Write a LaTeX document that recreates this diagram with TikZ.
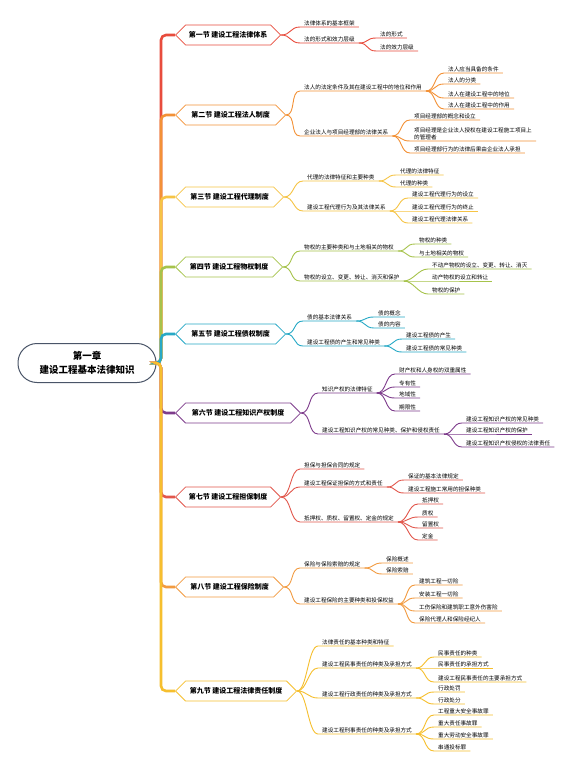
\documentclass[tikz,border=0pt]{standalone}
\usepackage{fontspec}
\setmainfont{Noto Sans CJK SC}
\usetikzlibrary{shapes.symbols}
\definecolor{cA}{HTML}{E84C3D}
\definecolor{cB}{HTML}{F39136}
\definecolor{cC}{HTML}{F6C445}
\definecolor{cD}{HTML}{A6C34B}
\definecolor{cE}{HTML}{27A9C6}
\definecolor{cF}{HTML}{7E3C8C}
\definecolor{cG}{HTML}{E2574C}
\definecolor{cH}{HTML}{F29B41}
\definecolor{cI}{HTML}{F6BF2E}
\definecolor{cZ}{HTML}{4A5568}
\newcommand\kid[5]{%
  \node[sub] (#2) at (#3) {#4};
  \draw[br=#5] (#1) .. controls +(10,0) and +(-10,0) .. (#2.south west) -- (#2.south east);}
\begin{document}
\begin{tikzpicture}[x=1pt,y=-1pt,
  sec/.style={signal, signal to=west and east, signal pointer angle=90, draw=#1,
    line width=0.8pt, fill=white, minimum height=20pt, inner xsep=2pt, inner ysep=0pt,
    font=\fontsize{7}{8}\selectfont\bfseries, anchor=west},
  sub/.style={anchor=south west, inner xsep=4pt, inner ysep=1.3pt, align=left,
    font=\fontsize{5.6}{6.4}\selectfont},
  br/.style={draw=#1, line width=0.9pt},
  tr/.style={draw=#1, line width=2.6pt, rounded corners=5pt},
]
\useasboundingbox (0,0) rectangle (579,760);
\fill[white] (0,0) rectangle (579,760);

% central
\node[draw=cZ, line width=1pt, fill=white, rounded corners=19pt, minimum width=138pt,
  minimum height=39pt, align=center, font=\fontsize{9.5}{13.5}\selectfont\bfseries]
  (c) at (87,363) {第一章\\建设工程基本法律知识};

% sections
\node[sec=cA, minimum width=105pt] (s1) at (175,35) {第一节 建设工程法律体系};
\node[sec=cB, minimum width=110pt] (s2) at (175,115) {第二节 建设工程法人制度};
\node[sec=cC, minimum width=108pt] (s3) at (175,197) {第三节 建设工程代理制度};
\node[sec=cD, minimum width=107pt] (s4) at (175,267) {第四节 建设工程物权制度};
\node[sec=cE, minimum width=110pt] (s5) at (175,334) {第五节 建设工程债权制度};
\node[sec=cF, minimum width=125pt] (s6) at (175,413) {第六节 建设工程知识产权制度};
\node[sec=cG, minimum width=105pt] (s7) at (175,497) {第七节 建设工程担保制度};
\node[sec=cH, minimum width=108pt] (s8) at (175,587) {第八节 建设工程保险制度};
\node[sec=cI, minimum width=121pt] (s9) at (175,691) {第九节 建设工程法律责任制度};

% trunk
\draw[tr=cA] (c.east) -- (161,363) |- (s1.west);
\draw[tr=cB] (c.east) -- (161,363) |- (s2.west);
\draw[tr=cC] (c.east) -- (161,363) |- (s3.west);
\draw[tr=cD] (c.east) -- (161,363) |- (s4.west);
\draw[tr=cE] (c.east) -- (161,363) |- (s5.west);
\draw[tr=cF] (c.east) -- (161,363) |- (s6.west);
\draw[tr=cG] (c.east) -- (161,363) |- (s7.west);
\draw[tr=cH] (c.east) -- (161,363) |- (s8.west);
\draw[tr=cI] (c.east) -- (161,363) |- (s9.west);

% section 1
\kid{s1.east}{a11}{300,27}{法律体系的基本框架}{cA}
\kid{s1.east}{a12}{300,43}{法的形式和效力层级}{cA}
\kid{a12.south east}{a121}{376,38}{法的形式}{cA}
\kid{a12.south east}{a122}{376,51}{法的效力层级}{cA}

% section 2
\kid{s2.east}{a21}{300,91}{法人的法定条件及其在建设工程中的地位和作用}{cB}
\kid{a21.south east}{a211}{444,73}{法人应当具备的条件}{cB}
\kid{a21.south east}{a212}{444,84}{法人的分类}{cB}
\kid{a21.south east}{a213}{444,98}{法人在建设工程中的地位}{cB}
\kid{a21.south east}{a214}{444,109}{法人在建设工程中的作用}{cB}
\kid{s2.east}{a22}{300,136}{企业法人与项目经理部的法律关系}{cB}
\kid{a22.south east}{a221}{410,120}{项目经理部的概念和设立}{cB}
\kid{a22.south east}{a222}{410,141}{项目经理是企业法人授权在建设工程施工项目上\\的管理者}{cB}
\kid{a22.south east}{a223}{410,153}{项目经理部行为的法律后果由企业法人承担}{cB}

% section 3
\kid{s3.east}{a31}{303,181}{代理的法律特征和主要种类}{cC}
\kid{a31.south east}{a311}{396,175}{代理的法律特征}{cC}
\kid{a31.south east}{a312}{396,187}{代理的种类}{cC}
\kid{s3.east}{a32}{303,211}{建设工程代理行为及其法律关系}{cC}
\kid{a32.south east}{a321}{408,198}{建设工程代理行为的设立}{cC}
\kid{a32.south east}{a322}{408,211}{建设工程代理行为的终止}{cC}
\kid{a32.south east}{a323}{408,223}{建设工程代理法律关系}{cC}

% section 4
\kid{s4.east}{a41}{300,251}{物权的主要种类和与土地相关的物权}{cD}
\kid{a41.south east}{a411}{415,244}{物权的种类}{cD}
\kid{a41.south east}{a412}{415,257}{与土地相关的物权}{cD}
\kid{s4.east}{a42}{300,281}{物权的设立、变更、转让、消灭和保护}{cD}
\kid{a42.south east}{a421}{428,269}{不动产物权的设立、变更、转让、消灭}{cD}
\kid{a42.south east}{a422}{428,281}{动产物权的设立和转让}{cD}
\kid{a42.south east}{a423}{428,294}{物权的保护}{cD}

% section 5
\kid{s5.east}{a51}{303,321}{债的基本法律关系}{cE}
\kid{a51.south east}{a511}{374,317}{债的概念}{cE}
\kid{a51.south east}{a512}{374,328}{债的内容}{cE}
\kid{s5.east}{a52}{303,346}{建设工程债的产生和常见种类}{cE}
\kid{a52.south east}{a521}{402,339}{建设工程债的产生}{cE}
\kid{a52.south east}{a522}{402,352}{建设工程债的常见种类}{cE}

% section 6
\kid{s6.east}{a61}{318,393}{知识产权的法律特征}{cF}
\kid{a61.south east}{a611}{395,374}{财产权和人身权的双重属性}{cF}
\kid{a61.south east}{a612}{395,387}{专有性}{cF}
\kid{a61.south east}{a613}{395,398}{地域性}{cF}
\kid{a61.south east}{a614}{395,411}{期限性}{cF}
\kid{s6.east}{a62}{318,434}{建设工程知识产权的常见种类、保护和侵权责任}{cF}
\kid{a62.south east}{a621}{462,423}{建设工程知识产权的常见种类}{cF}
\kid{a62.south east}{a622}{462,434}{建设工程知识产权的保护}{cF}
\kid{a62.south east}{a623}{462,447}{建设工程知识产权侵权的法律责任}{cF}

% section 7
\kid{s7.east}{a71}{300,469}{担保与担保合同的规定}{cG}
\kid{s7.east}{a72}{300,487}{建设工程保证担保的方式和责任}{cG}
\kid{a72.south east}{a721}{404,480}{保证的基本法律规定}{cG}
\kid{a72.south east}{a722}{404,493}{建设工程施工常用的担保种类}{cG}
\kid{s7.east}{a73}{300,522}{抵押权、质权、留置权、定金的规定}{cG}
\kid{a73.south east}{a731}{418,504}{抵押权}{cG}
\kid{a73.south east}{a732}{418,517}{质权}{cG}
\kid{a73.south east}{a733}{418,528}{留置权}{cG}
\kid{a73.south east}{a734}{418,540}{定金}{cG}

% section 8
\kid{s8.east}{a81}{300,568}{保险与保险索赔的规定}{cH}
\kid{a81.south east}{a811}{382,563}{保险概述}{cH}
\kid{a81.south east}{a812}{382,574}{保险索赔}{cH}
\kid{s8.east}{a82}{300,604}{建设工程保险的主要种类和投保权益}{cH}
\kid{a82.south east}{a821}{415,585}{建筑工程一切险}{cH}
\kid{a82.south east}{a822}{415,598}{安装工程一切险}{cH}
\kid{a82.south east}{a823}{415,611}{工伤保险和建筑职工意外伤害险}{cH}
\kid{a82.south east}{a824}{415,623}{保险代理人和保险经纪人}{cH}

% section 9
\kid{s9.east}{a91}{318,646}{法律责任的基本种类和特征}{cI}
\kid{s9.east}{a92}{318,668}{建设工程民事责任的种类及承担方式}{cI}
\kid{a92.south east}{a921}{434,657}{民事责任的种类}{cI}
\kid{a92.south east}{a922}{434,668}{民事责任的承担方式}{cI}
\kid{a92.south east}{a923}{434,682}{建设工程民事责任的主要承担方式}{cI}
\kid{s9.east}{a93}{318,698}{建设工程行政责任的种类及承担方式}{cI}
\kid{a93.south east}{a931}{434,692}{行政处罚}{cI}
\kid{a93.south east}{a932}{434,704}{行政处分}{cI}
\kid{s9.east}{a94}{318,734}{建设工程刑事责任的种类及承担方式}{cI}
\kid{a94.south east}{a941}{434,715}{工程重大安全事故罪}{cI}
\kid{a94.south east}{a942}{434,727}{重大责任事故罪}{cI}
\kid{a94.south east}{a943}{434,739}{重大劳动安全事故罪}{cI}
\kid{a94.south east}{a944}{434,751}{串通投标罪}{cI}
\end{tikzpicture}
\end{document}
